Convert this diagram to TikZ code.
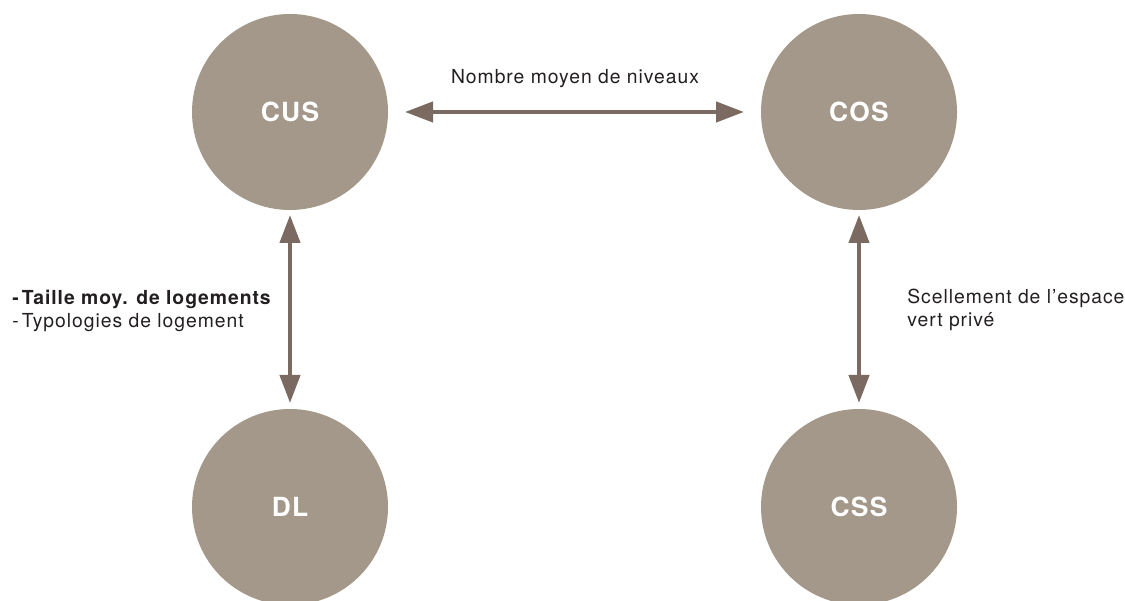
\documentclass[tikz,border=0pt]{standalone}
\usepackage{fontspec}
\setmainfont{TeX Gyre Heros}[LetterSpace=5]
\usetikzlibrary{arrows.meta}
\definecolor{taupe}{RGB}{163,152,137}
\definecolor{brun}{RGB}{122,106,97}
\definecolor{texte}{RGB}{35,31,32}

\begin{document}
\begin{tikzpicture}[
  rond/.style={circle,fill=taupe,minimum size=3.92cm,inner sep=0pt,outer sep=0pt,
    text=white,font=\fontsize{15}{17}\selectfont\bfseries},
  lien/.style={draw=brun,line width=0.085cm,
    {Triangle[length=5.6mm,width=4mm]}-{Triangle[length=5.6mm,width=4mm]}},
  legende/.style={text=texte,inner sep=0pt,font=\fontsize{11}{13.1}\selectfont,align=left}]
  \clip (0,0) rectangle (22.5,12.02);

  \node[rond] (cus) at (5.8,9.78) {CUS};
  \node[rond] (cos) at (17.18,9.78) {COS};
  \node[rond] (dl) at (5.8,1.88) {DL};
  \node[rond] (css) at (17.18,1.88) {CSS};

  \draw[lien,shorten <=0.34cm,shorten >=0.34cm] (cus) -- (cos);
  \draw[lien,shorten <=0.1cm,shorten >=0.12cm] (cus) -- (dl);
  \draw[lien,shorten <=0.1cm,shorten >=0.12cm] (cos) -- (css);

  \node[legende,anchor=base] (niveaux) at (11.5,10.34) {Nombre moyen de niveaux};
  \node[legende,anchor=base west] (logements) at (0.24,5.46)
    {\textbf{-\,Taille moy. de logements}\\-\,Typologies de logement};
  \node[legende,anchor=base west] (espace) at (18.14,5.48)
    {Scellement de l’espace\\vert privé};
\end{tikzpicture}
\end{document}
